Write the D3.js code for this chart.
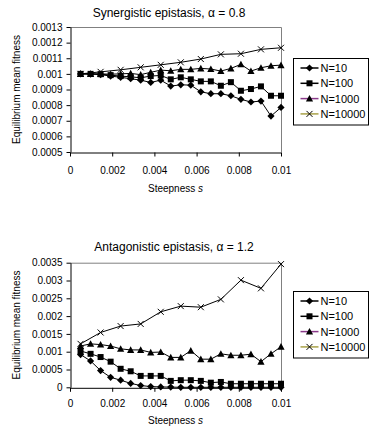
<!DOCTYPE html>
<html>
<head>
<meta charset="utf-8">
<script src="https://cdn.jsdelivr.net/npm/d3@7"></script>
<style>
  body { margin: 0; background: #fff; }
  text { font-family: "Liberation Sans", Arial, sans-serif; fill: #000; }
</style>
</head>
<body>
<div id="chart"></div>
<script>
// steepness values (21 runs, and 11 for N=10000)
var steepness = [0.0005, 0.000975, 0.00145, 0.001925, 0.0024, 0.002875, 0.00335, 0.003825, 0.0043, 0.004775,
  0.00525, 0.005725, 0.0062, 0.006675, 0.00715, 0.007625, 0.0081, 0.008575, 0.00905, 0.009525, 0.01];
var steepnessCoarse = [0.0005, 0.00145, 0.0024, 0.00335, 0.0043, 0.00525, 0.0062, 0.00715, 0.0081, 0.00905, 0.01];

var seriesNames = ["N=10", "N=100", "N=1000", "N=10000"];

// synergistic, alpha = 0.8
var synN10 = [0.001, 0.000999, 0.000995, 0.000986, 0.000978, 0.000969, 0.00096, 0.000945, 0.00096, 0.000922,
  0.00093, 0.000928, 0.000885, 0.000873, 0.000873, 0.00086, 0.000837, 0.00082, 0.000826, 0.00073, 0.000785];
var synN100 = [0.001, 0.001, 0.000998, 0.000992, 0.000986, 0.000981, 0.000975, 0.000986, 0.00099, 0.000965,
  0.000978, 0.000965, 0.000952, 0.000952, 0.000924, 0.000947, 0.000892, 0.000903, 0.00092, 0.00086, 0.00086];
var synN1000 = [0.001, 0.001, 0.001, 0.000998, 0.001, 0.001003, 0.000995, 0.00101, 0.001024, 0.00102,
  0.001029, 0.001029, 0.001035, 0.001031, 0.001018, 0.001035, 0.001061, 0.001018, 0.001039, 0.001052, 0.001056];
var synN10000 = [0.001, 0.001013, 0.001026, 0.001042, 0.001058, 0.001074, 0.001095, 0.001125, 0.001129, 0.001157, 0.001167];

// antagonistic, alpha = 1.2
var antN10 = [0.00092, 0.00074, 0.00047, 0.00028, 0.0002, 0.00011, 0.00005, 0.00002, 0.00001, 0.000005,
  0, 0, 0, 0, 0, 0, 0, 0, 0, 0, 0];
var antN100 = [0.00102, 0.00094, 0.00085, 0.00072, 0.00052, 0.00045, 0.00032, 0.00032, 0.00032, 0.00018,
  0.0002, 0.0002, 0.00018, 0.00013, 0.00015, 0.0001, 0.0001, 0.0001, 0.0001, 0.0001, 0.0001];
var antN1000 = [0.00116, 0.00122, 0.0012, 0.00116, 0.00108, 0.00105, 0.00105, 0.00098, 0.00099, 0.00084,
  0.00084, 0.00103, 0.00079, 0.00079, 0.00094, 0.0009, 0.0009, 0.00093, 0.00072, 0.00094, 0.00114];
var antN10000 = [0.00122, 0.00154, 0.00172, 0.00178, 0.00212, 0.00228, 0.00225, 0.00247, 0.00301, 0.00278, 0.00346];

var sTicks = [0, 0.002, 0.004, 0.006, 0.008, 0.01];
var synTicks = [0.0005, 0.0006, 0.0007, 0.0008, 0.0009, 0.001, 0.0011, 0.0012, 0.0013];
var antTicks = [0, 0.0005, 0.001, 0.0015, 0.002, 0.0025, 0.003, 0.0035];

var width = 369, height = 431;

var svg = d3.select("#chart")
  .append("svg")
  .attr("width", width)
  .attr("height", height);

// marker shapes
var markers = [
  function(g) { g.append("path").attr("d", "M0,-3.6L3.6,0L0,3.6L-3.6,0Z").attr("fill", "#000"); },
  function(g) { g.append("rect").attr("x", -3).attr("y", -3).attr("width", 6).attr("height", 6).attr("fill", "#000"); },
  function(g) { g.append("path").attr("d", "M0,-3.6L3.6,3L-3.6,3Z").attr("fill", "#000"); },
  function(g) { g.append("path").attr("d", "M-3,-3L3,3M-3,3L3,-3").attr("stroke", "#000").attr("stroke-width", 1).attr("fill", "none"); }
];
var legendColors = ["#000", "#000", "#8a3a8a", "#a9a24a"];

var panels = [
  {
    title: "Synergistic epistasis, \u03b1  = 0.8",
    top: 27, bottom: 152, domain: [0.0005, 0.0013], ticks: synTicks,
    series: [[steepness, synN10], [steepness, synN100], [steepness, synN1000], [steepnessCoarse, synN10000]],
    titleX: 169, titleY: 17, labelPad: 10, sTitleY: 192, legendTop: 58.5
  },
  {
    title: "Antagonistic epistasis, \u03b1 = 1.2",
    top: 262.7, bottom: 387.3, domain: [0, 0.0035], ticks: antTicks,
    series: [[steepness, antN10], [steepness, antN100], [steepness, antN1000], [steepnessCoarse, antN10000]],
    titleX: 174, titleY: 251, labelPad: 8, sTitleY: 424, legendTop: 291.5
  }
];

var left = 70, right = 281;

panels.forEach(function(p) {
  var x = d3.scaleLinear().domain([0, 0.01]).range([left, right]);
  var y = d3.scaleLinear().domain(p.domain).range([p.bottom, p.top]);
  var g = svg.append("g");

  // plot frame (top and right in grey)
  g.append("path")
    .attr("d", "M" + left + "," + (p.top + 0.5) + "H" + (right + 0.5) + "V" + p.bottom)
    .attr("stroke", "#808080").attr("fill", "none");

  // title
  g.append("text")
    .attr("x", p.titleX).attr("y", p.titleY)
    .attr("text-anchor", "middle")
    .style("font-size", "12px")
    .text(p.title);

  // axes
  var yAxis = g.append("g")
    .attr("transform", "translate(" + (left + 0.5) + ",0)")
    .call(d3.axisLeft(y).tickValues(p.ticks).tickSize(4).tickSizeOuter(0).tickPadding(4)
      .tickFormat(function(d) { return String(+d.toFixed(4)); }));
  var xAxis = g.append("g")
    .attr("transform", "translate(0," + (p.bottom + 0.5) + ")")
    .call(d3.axisBottom(x).tickValues(sTicks).tickSize(4).tickSizeOuter(0).tickPadding(p.labelPad)
      .tickFormat(function(d) { return String(+d.toFixed(4)); }));
  [yAxis, xAxis].forEach(function(a) {
    a.selectAll("text").style("font-size", "10px").style("font-family", "\"Liberation Sans\", Arial, sans-serif");
    a.selectAll("path, line").attr("stroke", "#000");
  });

  // axis titles
  var sTitle = g.append("text")
    .attr("x", 175.5).attr("y", p.sTitleY)
    .attr("text-anchor", "middle")
    .style("font-size", "10px");
  sTitle.append("tspan").text("Steepness ");
  sTitle.append("tspan").style("font-style", "italic").text("s");

  g.append("text")
    .attr("transform", "translate(20," + ((p.top + p.bottom) / 2) + ") rotate(-90)")
    .attr("text-anchor", "middle")
    .style("font-size", "10px")
    .text("Equilibrium mean fitness");

  // series
  var line = d3.line().x(function(d) { return x(d[0]); }).y(function(d) { return y(d[1]); });
  p.series.forEach(function(s, k) {
    var pts = s[0].map(function(v, i) { return [v, s[1][i]]; });
    g.append("path")
      .datum(pts)
      .attr("d", line)
      .attr("fill", "none")
      .attr("stroke", "#000")
      .attr("stroke-width", 1);
    pts.forEach(function(d) {
      var m = g.append("g").attr("transform", "translate(" + x(d[0]) + "," + y(d[1]) + ")");
      markers[k](m);
    });
  });

  // legend
  var lg = svg.append("g").attr("transform", "translate(293.5," + p.legendTop + ")");
  lg.append("rect").attr("width", 75).attr("height", 66.5)
    .attr("fill", "#fff").attr("stroke", "#000");
  seriesNames.forEach(function(name, k) {
    var ly = 9.5 + k * 15.3;
    lg.append("line").attr("x1", 7).attr("x2", 25).attr("y1", ly).attr("y2", ly)
      .attr("stroke", legendColors[k]).attr("stroke-width", 1.5);
    markers[k](lg.append("g").attr("transform", "translate(16," + ly + ")"));
    lg.append("text").attr("x", 27).attr("y", ly + 4)
      .style("font-size", "11px")
      .text(name);
  });
});
</script>
</body>
</html>
